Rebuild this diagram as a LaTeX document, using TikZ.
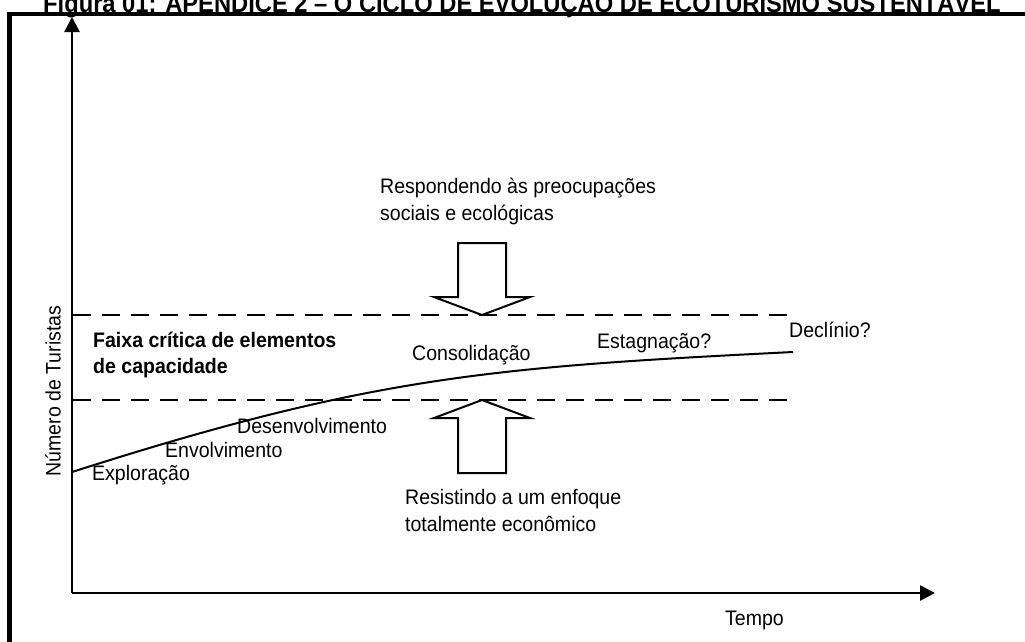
\documentclass[tikz,border=0pt]{standalone}
\usepackage{fontspec}
\setmainfont[FakeStretch=0.93]{Liberation Sans}
\usetikzlibrary{arrows.meta,positioning,calc}
\tikzset{
  pageframe/.style={line width=4.5pt,draw=black},
  axisline/.style={-{Triangle[length=15pt,width=15pt]},line width=2.6pt},
  limitline/.style={line width=2pt,dash pattern=on 18pt off 11pt},
  lifecurve/.style={line width=2pt},
  blockarrow/.style={line width=2pt,draw=black,fill=white},
  txt/.style={font=\fontsize{21}{27}\selectfont,inner sep=0pt,align=left},
  boldtxt/.style={txt,font=\fontsize{21}{26}\selectfont\bfseries}
}
\begin{document}
\begin{tikzpicture}[x=1pt,y=-1pt]
  \useasboundingbox (0,0) rectangle (1025,641);
  \node[font=\fontsize{25.5}{30}\selectfont\bfseries,inner sep=0pt,anchor=base west] (title) at (43,12)
    {Figura 01: APÊNDICE 2 – O CICLO DE EVOLUÇÃO DE ECOTURISMO SUSTENTÁVEL};
  \draw[pageframe] (9.5,680) |- (1050,14);
  % axes
  \coordinate (origin) at (72,593);
  \coordinate (ytop) at (72,17);
  \coordinate (xend) at (935,593);
  \draw[axisline] (origin) -- (ytop);
  \draw[axisline] (origin) -- (xend);
  \node[txt,rotate=90] (ylab) at (53,391) {Número de Turistas};
  \node[txt,anchor=base west] (xlab) at (725,625) {Tempo};
  % critical band
  \coordinate (bandtopL) at (73,315);
  \coordinate (bandtopR) at (793,315);
  \coordinate (bandlowL) at (73,400);
  \coordinate (bandlowR) at (793,400);
  \draw[limitline] (bandtopL) -- (bandtopR);
  \draw[limitline] (bandlowL) -- (bandlowR);
  \node[boldtxt,anchor=base west] (band) at (93,373)
    {Faixa crítica de elementos\\de capacidade};
  % evolution curve
  \coordinate (cstart) at (72,472);
  \coordinate (cend) at (793,352);
  \draw[lifecurve] (cstart) .. controls (372,376) and (493,367) .. (cend);
  \node[txt,anchor=base west] (explor) at (92,480) {Exploração};
  \node[txt,anchor=base west] (envolv) at (165,457) {Envolvimento};
  \node[txt,anchor=base west] (desenv) at (237,433) {Desenvolvimento};
  \node[txt,anchor=base west] (consol) at (412,360) {Consolidação};
  \node[txt,anchor=base west] (estag) at (597,348) {Estagnação?};
  \node[txt,anchor=base west] (declin) at (789,337) {Declínio?};
  % pressures
  \coordinate (downtip) at (482,315);
  \coordinate (uptip) at (482,400);
  \draw[blockarrow] (downtip) -- ++(-48,-18) -- ++(24,0) -- ++(0,-54) -- ++(48,0)
    -- ++(0,54) -- ++(24,0) -- cycle;
  \draw[blockarrow] (uptip) -- ++(-48,18) -- ++(24,0) -- ++(0,55) -- ++(48,0)
    -- ++(0,-55) -- ++(24,0) -- cycle;
  \node[txt,anchor=base west] (social) at (380,220)
    {Respondendo às preocupações\\sociais e ecológicas};
  \node[txt,anchor=base west] (econ) at (405,531)
    {Resistindo a um enfoque\\totalmente econômico};
\end{tikzpicture}
\end{document}
